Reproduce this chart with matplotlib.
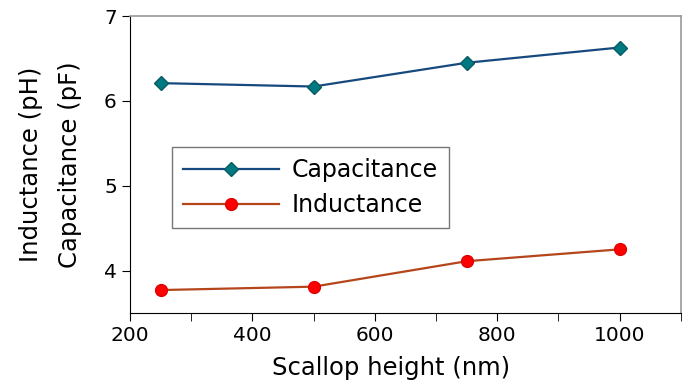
import matplotlib
matplotlib.use('Agg')
import matplotlib.pyplot as plt
from matplotlib.ticker import MultipleLocator

# data
heights = [250, 500, 750, 1000]
capacitance = [6.21, 6.17, 6.45, 6.63]
inductance = [3.77, 3.81, 4.11, 4.25]

fig = plt.figure(figsize=(6.89, 3.84), dpi=100)
ax = fig.add_axes([0.1887, 0.185, 0.7993, 0.773])

ax.plot(heights, capacitance, color='#164a7e', lw=1.6, marker='D', ms=7,
        mfc='#007a80', mec='#0a5a66', label='Capacitance')
ax.plot(heights, inductance, color='#b5461c', lw=1.6, marker='o', ms=8.5,
        mfc='#ff0000', mec='#e00000', label='Inductance')

ax.set_xlim(200, 1100)
ax.set_ylim(3.5, 7)
ax.xaxis.set_minor_locator(MultipleLocator(100))
ax.set_xticks([200, 400, 600, 800, 1000])
ax.set_yticks([4, 5, 6, 7])

ax.tick_params(axis='both', which='both', direction='out', top=False, right=False,
               labelsize=14.5, length=6)

for s in ['top', 'right']:
    ax.spines[s].set_color('#999999')
    ax.spines[s].set_linewidth(1.2)
for s in ['left', 'bottom']:
    ax.spines[s].set_color('black')

ax.set_xlabel('Scallop height (nm)', fontsize=17.5)
ax.xaxis.set_label_coords(0.474, -0.145)
ax.set_ylabel('Inductance (pH)\nCapacitance (pF)', fontsize=17.5, linespacing=1.75)
ax.yaxis.set_label_coords(-0.088, 0.5)

leg = ax.legend(loc='upper left', bbox_to_anchor=(0.076, 0.559), borderaxespad=0,
                fontsize=17, fancybox=False, edgecolor='#777777', framealpha=1,
                handlelength=4.05, handletextpad=0.55, borderpad=0.48,
                labelspacing=0.45)

fig.savefig('out.png', dpi=100)
